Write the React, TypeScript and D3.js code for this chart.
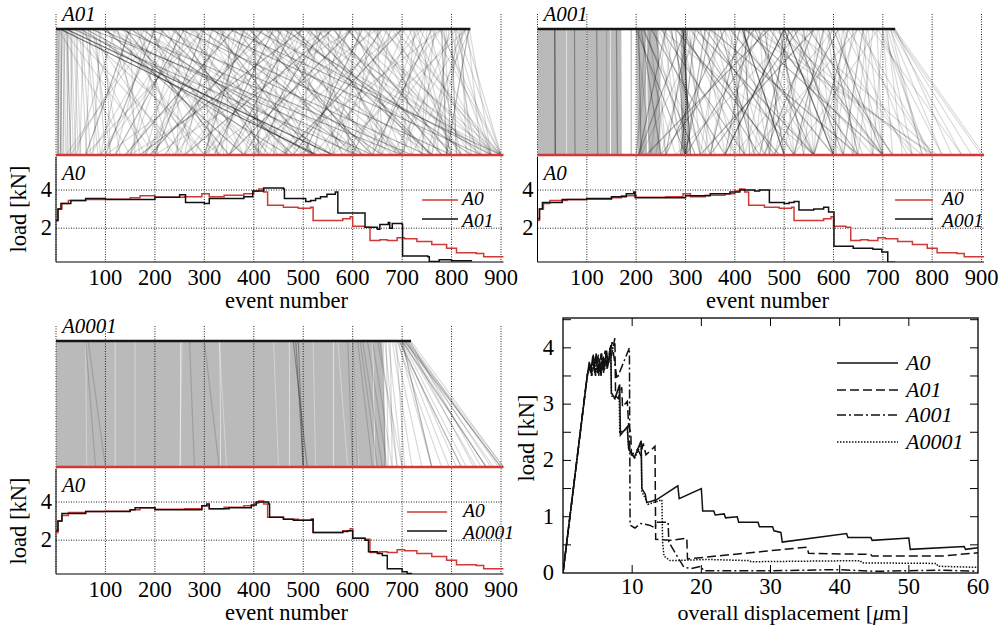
import React from "react";
import * as d3 from "d3";

type Pt = [number, number];
type Link = [number, number, number];
type Band = [number, number, number, number];

const FONT = "Liberation Serif";
const RED = "#cf3a36";
const txt = { fontFamily: FONT, fontSize: "22.5px" };
const itx = { fontFamily: FONT, fontSize: "21px", fontStyle: "italic" };
const ltx = { fontFamily: FONT, fontSize: "19.5px", fontStyle: "italic" };

const eventTicks = [100, 200, 300, 400, 500, 600, 700, 800, 900];
const loadTicks = [2, 4];
const dispTicks = [10, 20, 30, 40, 50, 60];
const dispLoadTicks = [0, 1, 2, 3, 4];
const dispMinor = [0.5, 1, 1.5, 2, 2.5, 3, 3.5, 4, 4.5];

// load [kN] vs event number
const a0Load: Pt[] = [[0, 2.4], [4, 3.0], [12, 3.3], [25, 3.45], [60, 3.5], [100, 3.52], [150, 3.6], [170, 3.7], [200, 3.62], [260, 3.65], [295, 3.8], [310, 3.65], [340, 3.72], [380, 3.8], [400, 3.95], [410, 4.05], [420, 3.9], [428, 3.2], [460, 3.1], [490, 3.05], [515, 3.1], [520, 2.4], [580, 2.5], [595, 2.6], [600, 2.1], [625, 2.05], [635, 1.35], [655, 1.4], [670, 1.35], [690, 1.5], [705, 1.45], [730, 1.3], [760, 1.15], [790, 0.95], [810, 0.72], [850, 0.68], [865, 0.5], [905, 0.5]];
const a01Load: Pt[] = [[0, 2.4], [4, 3.0], [10, 3.3], [30, 3.45], [60, 3.55], [100, 3.5], [200, 3.62], [250, 3.75], [262, 3.35], [300, 3.3], [310, 3.55], [380, 3.65], [398, 3.95], [420, 4.1], [460, 4.05], [462, 3.55], [505, 3.4], [515, 3.45], [525, 3.55], [535, 3.65], [548, 3.78], [565, 3.9], [570, 2.8], [620, 2.8], [625, 2.05], [650, 1.95], [655, 2.2], [672, 2.3], [675, 2.0], [680, 2.25], [700, 2.2], [701, 0.55], [752, 0.5], [755, 0.25], [775, 0.35], [800, 0.3], [840, 0.33]];
const a001Load: Pt[] = [[0, 2.5], [4, 3.0], [10, 3.35], [50, 3.5], [100, 3.55], [150, 3.65], [180, 3.8], [195, 3.9], [198, 3.6], [250, 3.6], [300, 3.7], [350, 3.8], [390, 3.9], [410, 4.0], [440, 3.95], [450, 4.0], [470, 3.35], [500, 3.3], [510, 3.35], [520, 3.4], [530, 2.95], [560, 3.0], [580, 3.1], [590, 2.85], [601, 1.05], [640, 0.95], [680, 0.9], [698, 0.75], [710, 0.22], [725, 0.22]];
const a0001Load: Pt[] = [[0, 2.5], [4, 3.0], [12, 3.4], [60, 3.5], [100, 3.5], [150, 3.6], [160, 3.7], [200, 3.6], [250, 3.6], [295, 3.8], [305, 3.9], [310, 3.65], [350, 3.7], [395, 3.85], [405, 4.0], [430, 3.9], [432, 3.2], [460, 3.1], [480, 3.05], [518, 3.1], [520, 2.4], [580, 2.45], [590, 2.5], [600, 2.1], [625, 2.0], [632, 1.4], [650, 1.3], [660, 1.2], [670, 0.5], [700, 0.35], [710, 0.25], [720, 0.25]];

// event matching: [event in compared run, event in A0, darkness 1..3]
const a01Links: Link[] = [
  [2, 3, 2], [4, 6, 1], [6, 5, 2], [8, 10, 1], [10, 12, 1], [12, 9, 2], [14, 16, 1], [16, 20, 1], [18, 14, 1], [20, 25, 1], [22, 30, 2], [25, 22, 1], [28, 35, 1], [30, 40, 1], [33, 28, 1], [36, 45, 1], [40, 50, 1], [44, 38, 1], [48, 62, 1], [52, 70, 1], [56, 48, 1], [60, 85, 1], [65, 90, 1], [70, 60, 1], [75, 110, 1], [80, 100, 1], [85, 130, 1], [90, 75, 1],
  [8, 528, 3], [20, 560, 3], [35, 610, 2], [50, 470, 2], [60, 520, 2], [70, 700, 2], [90, 640, 2], [100, 380, 2], [110, 450, 1], [130, 720, 2], [150, 560, 2], [170, 600, 1], [190, 750, 2], [210, 480, 2], [230, 620, 1], [250, 800, 2], [270, 540, 1], [290, 660, 2], [310, 860, 2], [330, 700, 1], [350, 900, 2], [370, 760, 1], [400, 880, 2], [420, 820, 1], [440, 900, 1], [460, 840, 2], [480, 760, 2], [500, 880, 1], [520, 900, 1], [540, 860, 1], [560, 780, 2], [600, 900, 1], [620, 880, 1], [640, 820, 1], [660, 900, 1], [700, 880, 1], [720, 860, 1], [760, 900, 1], [780, 880, 1], [800, 850, 1], [810, 900, 1], [120, 300, 1], [140, 350, 2], [160, 420, 1], [180, 380, 1], [240, 430, 2], [260, 470, 1], [320, 520, 2], [360, 600, 1], [390, 640, 2], [410, 700, 1], [430, 620, 2], [470, 700, 1], [510, 760, 2], [530, 690, 1], [570, 720, 1], [590, 800, 2],
  [120, 40, 1], [150, 60, 2], [180, 30, 1], [200, 100, 2], [220, 70, 1], [240, 150, 1], [260, 120, 2], [280, 90, 1], [300, 200, 2], [320, 180, 1], [340, 250, 1], [360, 140, 2], [380, 300, 2], [400, 220, 1], [420, 190, 2], [440, 320, 2], [460, 260, 1], [480, 350, 2], [500, 300, 1], [520, 410, 1], [540, 380, 2], [560, 260, 2], [580, 430, 1], [600, 350, 2], [620, 500, 2], [640, 400, 1], [660, 480, 2], [680, 550, 1], [700, 460, 2], [720, 600, 1], [740, 520, 1], [760, 640, 2], [780, 580, 1], [800, 700, 1], [810, 620, 1], [820, 750, 1], [830, 680, 1], [835, 790, 2], [838, 720, 1], [200, 20, 1], [300, 60, 1], [450, 100, 1], [500, 170, 2], [650, 300, 1], [700, 380, 1], [780, 450, 1], [830, 560, 1], [600, 200, 1], [550, 150, 1],
  [300, 310, 1], [350, 345, 1], [400, 410, 2], [405, 400, 1], [450, 440, 1], [500, 510, 1], [550, 560, 1], [600, 590, 1], [650, 660, 1], [700, 705, 1], [750, 740, 1], [780, 790, 2], [790, 770, 1], [800, 810, 2], [810, 790, 1], [820, 830, 1], [200, 205, 1], [250, 245, 1], [150, 160, 1], [100, 110, 1],
  [170, 250, 1], [190, 330, 1], [280, 410, 1], [330, 470, 1], [370, 520, 1], [450, 580, 1], [490, 610, 1], [540, 680, 1], [610, 740, 1], [650, 780, 1], [680, 820, 1], [730, 800, 1],
  [250, 180, 1], [330, 240, 1], [390, 280, 1], [470, 400, 1], [530, 440, 1], [590, 520, 1], [670, 560, 1], [730, 650, 1], [770, 700, 1], [825, 760, 1],
  [5, 150, 1], [15, 200, 1], [25, 260, 1], [45, 330, 1], [55, 180, 1], [65, 240, 1], [80, 300, 1], [95, 420, 1], [105, 200, 1], [115, 520, 1], [125, 170, 1], [135, 280, 1], [145, 90, 1], [155, 330, 1], [165, 230, 1], [175, 500, 1], [185, 120, 1], [195, 280, 1], [205, 400, 1], [215, 150, 1], [225, 330, 1], [235, 520, 1], [245, 90, 1], [255, 380, 1], [265, 200, 1], [275, 610, 1], [285, 340, 1], [295, 150, 1], [305, 450, 1], [315, 260, 1], [325, 620, 1], [335, 410, 1], [345, 180, 1], [355, 500, 1], [365, 300, 1], [375, 680, 1], [385, 220, 1], [395, 520, 1], [415, 330, 1], [425, 560, 1], [435, 240, 1], [445, 660, 1], [455, 380, 1], [465, 580, 1], [475, 300, 1], [485, 640, 1], [495, 420, 1], [505, 700, 1], [515, 350, 1], [525, 600, 1], [535, 480, 1], [545, 740, 1], [555, 400, 1], [565, 660, 1], [575, 520, 1], [585, 860, 1], [595, 460, 1], [605, 700, 1], [615, 560, 1], [625, 820, 1], [635, 600, 1], [645, 760, 1], [655, 540, 1], [665, 840, 1], [675, 640, 1], [685, 900, 1], [695, 720, 1], [705, 600, 1], [715, 800, 1], [725, 700, 1], [735, 880, 1], [745, 660, 1], [755, 820, 1], [765, 740, 1], [775, 900, 1], [785, 800, 1], [795, 760, 1], [805, 880, 1], [815, 840, 1], [825, 900, 1], [832, 860, 1], [836, 880, 1],
];
const a001Bands: Band[] = [[0, 58, 0, 58], [59, 99, 59, 99], [100, 147, 100, 147], [148, 170, 149, 171], [200, 219, 203, 222], [221, 245, 225, 250], [290, 300, 292, 303]];
const a001Links: Link[] = [
  [35, 36, 3], [75, 76, 2], [120, 122, 2], [140, 140, 1], [160, 162, 2], [190, 190, 2],
  [200, 300, 2], [205, 210, 2], [210, 250, 2], [215, 320, 2], [220, 200, 1], [230, 380, 2], [240, 260, 1], [250, 420, 2], [260, 230, 1], [270, 330, 2], [280, 300, 2], [290, 450, 2], [295, 310, 3], [300, 305, 2], [305, 260, 2], [310, 480, 2], [320, 290, 2], [330, 400, 1], [340, 520, 2], [350, 300, 2], [360, 340, 1], [370, 440, 2], [380, 260, 2], [390, 600, 2], [400, 410, 2], [410, 350, 2], [415, 500, 3], [420, 430, 2], [430, 380, 2], [440, 560, 2], [450, 470, 1], [460, 300, 2], [470, 650, 2], [480, 420, 1], [490, 540, 2], [500, 380, 3], [500, 600, 3], [505, 700, 2], [510, 450, 2], [520, 620, 2], [530, 350, 2], [540, 500, 1], [550, 720, 2], [560, 460, 2], [570, 600, 1], [580, 520, 2], [590, 650, 2], [600, 605, 2], [600, 700, 2], [610, 480, 2], [620, 750, 1], [630, 560, 2], [640, 600, 1], [650, 800, 1], [660, 620, 2], [670, 700, 1], [680, 650, 1], [690, 820, 1], [700, 680, 1], [705, 760, 1], [710, 780, 1], [715, 820, 1], [718, 860, 1], [720, 900, 1], [722, 880, 1], [724, 905, 1], [725, 840, 1],
  [440, 250, 2], [470, 220, 2], [520, 280, 1], [560, 330, 2], [600, 400, 1], [650, 430, 1], [690, 520, 1], [320, 560, 2], [280, 490, 2], [250, 560, 1], [350, 650, 2], [420, 700, 2], [480, 780, 1], [200, 230, 1], [230, 200, 1], [260, 300, 1], [300, 350, 1], [340, 300, 2], [380, 420, 1], [420, 390, 1], [460, 500, 2], [500, 470, 2], [540, 560, 1], [580, 560, 1], [620, 640, 1], [660, 680, 1], [700, 720, 1], [420, 805, 1], [520, 810, 1], [260, 205, 2], [300, 205, 2], [330, 210, 1], [440, 800, 1],
  [205, 280, 1], [212, 340, 1], [225, 260, 1], [235, 300, 1], [245, 350, 1], [255, 290, 1], [265, 400, 1], [275, 240, 1], [285, 360, 1], [298, 420, 1], [308, 330, 1], [318, 250, 1], [328, 460, 1], [338, 380, 1], [348, 560, 1], [358, 420, 1], [368, 330, 1], [378, 520, 1], [388, 460, 1], [398, 350, 1], [408, 560, 1], [418, 470, 1], [428, 620, 1], [438, 400, 1], [448, 520, 1], [458, 680, 1], [468, 440, 1], [478, 560, 1], [488, 700, 1], [498, 520, 1], [508, 640, 1], [518, 460, 1], [528, 720, 1], [538, 600, 1], [548, 480, 1], [558, 660, 1], [568, 540, 1], [578, 760, 1], [588, 620, 1], [598, 520, 1], [608, 680, 1], [618, 600, 1], [628, 800, 1], [638, 700, 1], [648, 560, 1], [658, 760, 1], [668, 640, 1], [678, 860, 1], [688, 700, 1], [698, 790, 1], [708, 740, 1], [716, 780, 1],
];
const a0001Bands: Band[] = [[0, 119, 0, 119], [120, 251, 120, 252], [252, 331, 253, 332], [332, 471, 333, 472], [472, 561, 473, 561], [562, 640, 562, 645], [641, 660, 646, 668]];
const a0001Gaps: Pt[] = [[60, 62], [160, 160], [255, 250], [330, 345], [440, 450], [520, 525], [570, 590], [598, 612]];
const a0001Links: Link[] = [
  [480, 508, 2], [485, 500, 2], [600, 610, 1], [610, 640, 1], [615, 650, 1], [620, 660, 1], [630, 670, 1], [640, 680, 1], [650, 700, 1], [655, 690, 1], [662, 665, 1], [665, 690, 1], [668, 672, 1], [672, 700, 1], [676, 680, 1], [680, 720, 1], [684, 740, 1], [688, 705, 1], [692, 760, 1], [695, 795, 1], [698, 810, 1], [700, 830, 1], [702, 850, 1], [704, 870, 1], [706, 885, 1], [708, 900, 1], [710, 905, 1], [712, 880, 1], [714, 895, 1], [716, 860, 1], [718, 905, 1], [690, 780, 1], [694, 820, 2], [700, 760, 2], [705, 900, 2], [700, 870, 2], [710, 845, 1], [60, 80, 1], [65, 100, 1], [270, 280, 1], [300, 330, 1], [490, 500, 2], [590, 600, 1],
];

// load [kN] vs overall displacement [um]
const dispA0: Pt[] = [[0, 0], [3.5, 3.5], [3.8, 3.75], [4.0, 3.55], [4.3, 3.85], [4.5, 3.6], [4.8, 3.9], [5.0, 3.55], [5.3, 3.8], [5.5, 3.5], [5.8, 3.85], [6.0, 3.65], [6.3, 3.95], [6.5, 3.7], [6.9, 4.05], [7.0, 3.2], [7.5, 3.1], [8.2, 3.35], [8.3, 2.45], [9.3, 2.6], [9.5, 2.2], [10.3, 2.05], [11.3, 2.35], [11.4, 1.5], [11.9, 1.4], [12.1, 1.25], [13.5, 1.3], [16.6, 1.55], [16.8, 1.32], [20, 1.5], [20.2, 1.1], [21.8, 1.1], [22, 1.03], [23.3, 1.05], [23.5, 0.98], [25.2, 1.0], [25.4, 0.9], [28.2, 0.9], [28.4, 0.82], [30.3, 0.82], [30.5, 0.75], [31.5, 0.72], [31.7, 0.55], [41, 0.7], [41.2, 0.63], [44.5, 0.63], [44.7, 0.58], [50, 0.62], [50.2, 0.42], [58, 0.47], [58.2, 0.42], [60, 0.45]];
const dispA01: Pt[] = [[0, 0], [3.5, 3.52], [3.9, 3.7], [4.1, 3.5], [4.4, 3.9], [4.6, 3.55], [4.9, 3.8], [5.2, 3.5], [5.5, 3.9], [5.7, 3.6], [6.1, 3.95], [6.4, 3.6], [6.8, 4.0], [7.0, 3.85], [7.5, 4.17], [7.6, 3.15], [8.0, 3.1], [8.5, 3.3], [8.6, 2.95], [9.3, 3.05], [9.5, 2.6], [9.8, 2.5], [9.9, 2.1], [10.8, 2.2], [11.2, 2.1], [11.6, 2.3], [12.0, 2.1], [13.3, 2.25], [13.4, 0.6], [15.5, 0.58], [17.9, 0.62], [18.0, 0.25], [35.3, 0.46], [35.5, 0.35], [44.5, 0.33], [44.7, 0.3], [54.8, 0.3], [60, 0.36]];
const dispA001: Pt[] = [[0, 0], [3.5, 3.5], [3.8, 3.65], [4.1, 3.55], [4.4, 3.8], [4.7, 3.5], [5.0, 3.85], [5.3, 3.6], [5.6, 3.9], [5.9, 3.55], [6.2, 3.9], [6.6, 3.75], [7.1, 4.1], [7.3, 3.9], [7.8, 3.45], [9.6, 4.0], [9.7, 0.85], [10.4, 0.8], [11.2, 0.88], [12.5, 0.85], [13.3, 0.8], [13.5, 0.9], [15.2, 0.9], [15.3, 0.55], [16.5, 0.3], [17.5, 0.1], [18.5, 0.08], [20, 0.12], [20.3, 0.04], [30, 0.04], [40, 0.06], [45, 0.03], [55, 0.05], [60, 0.03]];
const dispA0001: Pt[] = [[0, 0], [3.5, 3.48], [3.9, 3.72], [4.2, 3.5], [4.5, 3.82], [4.8, 3.55], [5.1, 3.88], [5.4, 3.52], [5.7, 3.82], [6.0, 3.6], [6.3, 3.9], [6.6, 3.72], [6.9, 4.0], [7.0, 3.15], [7.5, 3.1], [8.1, 3.3], [8.2, 2.5], [9.3, 2.55], [9.5, 2.2], [10.4, 2.05], [11.3, 2.3], [11.4, 1.45], [12, 1.3], [12.3, 1.22], [14.3, 1.3], [14.4, 0.55], [14.6, 0.3], [15.5, 0.22], [21, 0.24], [27, 0.22], [27.2, 0.2], [43, 0.22], [43.2, 0.18], [54, 0.17], [54.2, 0.12], [60, 0.1]];

const opac: Record<number, number> = { 1: 0.15, 2: 0.3, 3: 0.55 };

function EventPanel({ x0, x1, oy, topLabel, topEnd, links, bands, gaps, comp, legend, yLabel }: any) {
  const x = d3.scaleLinear().domain([0, 900]).range([x0, x1]);
  const topY = oy + 29, botY = oy + 155;
  const plotTop = oy + 157, plotBot = oy + 262;
  const y = d3.scaleLinear().domain([0.23, 5.73]).range([plotBot, plotTop]);
  const step = d3.line<Pt>().x(d => x(d[0])).y(d => y(d[1])).curve(d3.curveStepAfter);
  const xEnd = x(905);
  const clipId = "clip-" + topLabel;
  return (
    <g>
      <defs>
        <clipPath id={clipId}>
          <rect x={x0} y={plotTop} width={xEnd - x0 + 2} height={plotBot - plotTop} />
        </clipPath>
      </defs>
      {bands.map((b: Band, i: number) => (
        <polygon key={"b" + i} fill="#bababa"
          points={`${x(b[0])},${topY} ${x(b[1])},${topY} ${x(b[3])},${botY} ${x(b[2])},${botY}`} />
      ))}
      {gaps.map((g: Pt, i: number) => (
        <line key={"g" + i} x1={x(g[0])} y1={topY} x2={x(g[1])} y2={botY} stroke="#fff" strokeOpacity={0.45} strokeWidth={0.8} />
      ))}
      {links.map((l: Link, i: number) => (
        <line key={"l" + i} x1={x(l[0])} y1={topY} x2={x(l[1])} y2={botY} stroke="#000" strokeOpacity={opac[l[2]]} strokeWidth={1.2} />
      ))}
      {[0, ...eventTicks].map(v => (
        <line key={"v" + v} x1={x(v)} x2={x(v)} y1={oy + 14} y2={plotBot} stroke="#222" strokeWidth={1} strokeDasharray="1,1.5" />
      ))}
      {loadTicks.map(v => (
        <g key={"h" + v}>
          <line x1={x0} x2={xEnd} y1={y(v)} y2={y(v)} stroke="#222" strokeWidth={1} strokeDasharray="1,1.5" />
          <text x={x0 - 4} y={y(v) + 7} textAnchor="end" style={txt}>{v}</text>
        </g>
      ))}
      <line x1={x0} x2={x(topEnd)} y1={topY} y2={topY} stroke="#151515" strokeWidth={2.5} />
      <line x1={x0} x2={xEnd} y1={botY} y2={botY} stroke={RED} strokeWidth={2.5} />
      <line x1={x0} x2={x0} y1={plotTop} y2={plotBot} stroke="#000" strokeWidth={1} />
      <line x1={x0} x2={xEnd} y1={plotBot} y2={plotBot} stroke="#000" strokeWidth={1} />
      <g clipPath={`url(#${clipId})`} fill="none" strokeWidth={1.5}>
        <path d={step(a0Load) || ""} stroke={RED} />
        <path d={step(comp) || ""} stroke="#111" />
      </g>
      <text x={x0 + 6} y={oy + 21} style={itx}>{topLabel}</text>
      <text x={x0 + 6} y={plotTop + 23} style={itx}>A0</text>
      <line x1={legend[0]} x2={legend[1]} y1={oy + 200} y2={oy + 200} stroke={RED} strokeWidth={1.5} />
      <line x1={legend[0]} x2={legend[1]} y1={oy + 219} y2={oy + 219} stroke="#111" strokeWidth={1.5} />
      <text x={legend[2]} y={oy + 205} style={ltx}>A0</text>
      <text x={legend[2]} y={oy + 227} style={ltx}>{topLabel}</text>
      {eventTicks.map(v => (
        <text key={"t" + v} x={x(v)} y={oy + 285} textAnchor="middle" style={txt}>{v}</text>
      ))}
      <text x={(x0 + x1) / 2 + 8} y={oy + 308} textAnchor="middle" style={txt}>event number</text>
      {yLabel && (
        <text transform={`translate(26,${oy + 209}) rotate(-90)`} textAnchor="middle" style={txt}>load [kN]</text>
      )}
    </g>
  );
}

function DispPanel() {
  const x = d3.scaleLinear().domain([0, 60]).range([563, 978]);
  const y = d3.scaleLinear().domain([0, 4.53]).range([573, 318]);
  const ln = d3.line<Pt>().x(d => x(d[0])).y(d => y(d[1]));
  const series: [string, Pt[], string | undefined][] = [
    ["A0", dispA0, undefined],
    ["A01", dispA01, "9,4"],
    ["A001", dispA001, "9,3,2,3"],
    ["A0001", dispA0001, "1.5,1.5"],
  ];
  const legendY = [363, 390, 415, 442];
  return (
    <g>
      <defs>
        <clipPath id="clip-disp"><rect x={563} y={318} width={415} height={255} /></clipPath>
      </defs>
      <rect x={563} y={318} width={415} height={255} fill="none" stroke="#000" strokeWidth={1.3} />
      {dispMinor.map(v => (
        <g key={"m" + v}>
          <line x1={563} x2={571} y1={y(v)} y2={y(v)} stroke="#000" />
          <line x1={970} x2={978} y1={y(v)} y2={y(v)} stroke="#000" />
        </g>
      ))}
      {dispTicks.filter(v => v < 60).map(v => (
        <g key={"x" + v}>
          <line x1={x(v)} x2={x(v)} y1={573} y2={565} stroke="#000" />
          <line x1={x(v)} x2={x(v)} y1={318} y2={326} stroke="#000" />
        </g>
      ))}
      {dispTicks.map(v => (
        <text key={"xt" + v} x={x(v)} y={594} textAnchor="middle" style={txt}>{v}</text>
      ))}
      {dispLoadTicks.map(v => (
        <text key={"yt" + v} x={554} y={y(v) + 7} textAnchor="end" style={txt}>{v}</text>
      ))}
      <g clipPath="url(#clip-disp)" fill="none" stroke="#111" strokeWidth={1.5}>
        {series.map(s => (
          <path key={s[0]} d={ln(s[1]) || ""} strokeDasharray={s[2]} />
        ))}
      </g>
      {series.map((s, i) => (
        <g key={"lg" + s[0]}>
          <line x1={837} x2={898} y1={legendY[i]} y2={legendY[i]} stroke="#111" strokeWidth={1.5} strokeDasharray={s[2]} />
          <text x={906} y={legendY[i] + 7} style={{ ...itx, fontSize: "22px" }}>{s[0]}</text>
        </g>
      ))}
      <text transform="translate(534,438) rotate(-90)" textAnchor="middle" style={txt}>load [kN]</text>
      <text x={793} y={620} textAnchor="middle" style={{ ...txt, fontSize: "22px" }}>
        overall displacement [<tspan fontStyle="italic">μ</tspan>m]
      </text>
    </g>
  );
}

export default function App() {
  return (
    <svg width={1006} height={625} style={{ position: "absolute", left: 0, top: 0, background: "#fff", fontFamily: FONT }}>
      <rect width={1006} height={625} fill="#fff" />
      <EventPanel x0={56} x1={501} oy={0} topLabel="A01" topEnd={838} links={a01Links} bands={[]} gaps={[]}
        comp={a01Load} legend={[422, 458, 462]} yLabel />
      <EventPanel x0={537.5} x1={981.5} oy={0} topLabel="A001" topEnd={725} links={a001Links} bands={a001Bands} gaps={[]}
        comp={a001Load} legend={[895, 933, 942]} yLabel={false} />
      <EventPanel x0={56} x1={501} oy={312} topLabel="A0001" topEnd={718} links={a0001Links} bands={a0001Bands} gaps={a0001Gaps}
        comp={a0001Load} legend={[407, 447, 463]} yLabel />
      <DispPanel />
    </svg>
  );
}
